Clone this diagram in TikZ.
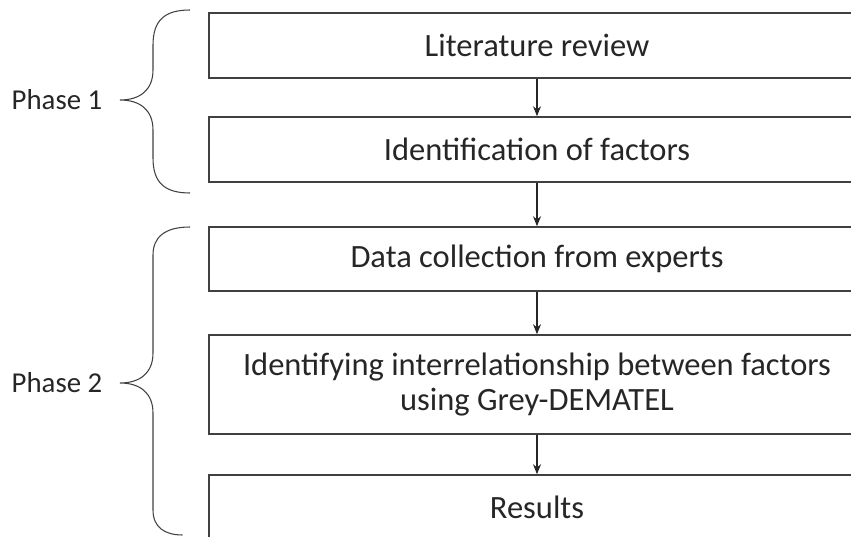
\documentclass[tikz,border=0pt]{standalone}
\usepackage{fontspec}
\setmainfont{Carlito}
\usepackage{tikz}
\usetikzlibrary{arrows.meta,positioning}
\definecolor{ink}{HTML}{262626}
\definecolor{rule}{HTML}{404040}

\begin{document}
\begin{tikzpicture}[>={Stealth[length=0.2cm,width=0.16cm]},
  font=\fontsize{16.4}{20}\selectfont,text=ink,
  stepbox/.style={draw=rule,line width=0.9pt,minimum width=13.12cm,align=center,inner sep=0pt,
    font=\fontsize{18.5}{20}\selectfont},
  link/.style={->,draw=ink,line width=0.6pt},
  curly/.style={draw=rule,line width=0.6pt}]
\clip (0,0) rectangle (17.02,-10.74);
% process steps
\node[stepbox,minimum height=1.3cm]  (review)  at (10.74,-0.91)  {Literature review};
\node[stepbox,minimum height=1.3cm]  (factors) at (10.74,-2.99)  {Identification of factors};
\node[stepbox,minimum height=1.28cm] (collect) at (10.74,-5.18)  {Data collection from experts};
\node[stepbox,minimum height=1.98cm] (relate)  at (10.74,-7.69)  {Identifying interrelationship between factors\\using Grey-DEMATEL};
\node[stepbox,minimum height=1.3cm]  (results) at (10.74,-10.15) {Results};
% phase labels
\node (phaseA) at (1.14,-2.0)  {Phase 1};
\node (phaseB) at (1.14,-7.66) {Phase 2};
% braces
\draw[curly] (3.8,-0.2) .. controls (3.3,-0.2) and (3.06,-0.4) .. (3.06,-0.9)
  -- (3.06,-1.4) .. controls (3.06,-1.8) and (2.8,-2.0) .. (2.4,-2.0)
  .. controls (2.8,-2.0) and (3.06,-2.2) .. (3.06,-2.6)
  -- (3.06,-3.16) .. controls (3.06,-3.66) and (3.3,-3.86) .. (3.8,-3.86);
\draw[curly] (3.8,-4.54) .. controls (3.3,-4.54) and (3.06,-4.74) .. (3.06,-5.1)
  -- (3.06,-7.06) .. controls (3.06,-7.46) and (2.8,-7.66) .. (2.4,-7.66)
  .. controls (2.8,-7.66) and (3.06,-7.86) .. (3.06,-8.26)
  -- (3.06,-10.2) .. controls (3.06,-10.55) and (3.3,-10.7) .. (3.65,-10.7);
% arrows
\draw[link] (review)  -- (factors);
\draw[link] (factors) -- (collect);
\draw[link] (collect) -- (relate);
\draw[link] (relate)  -- (results);
\end{tikzpicture}
\end{document}
